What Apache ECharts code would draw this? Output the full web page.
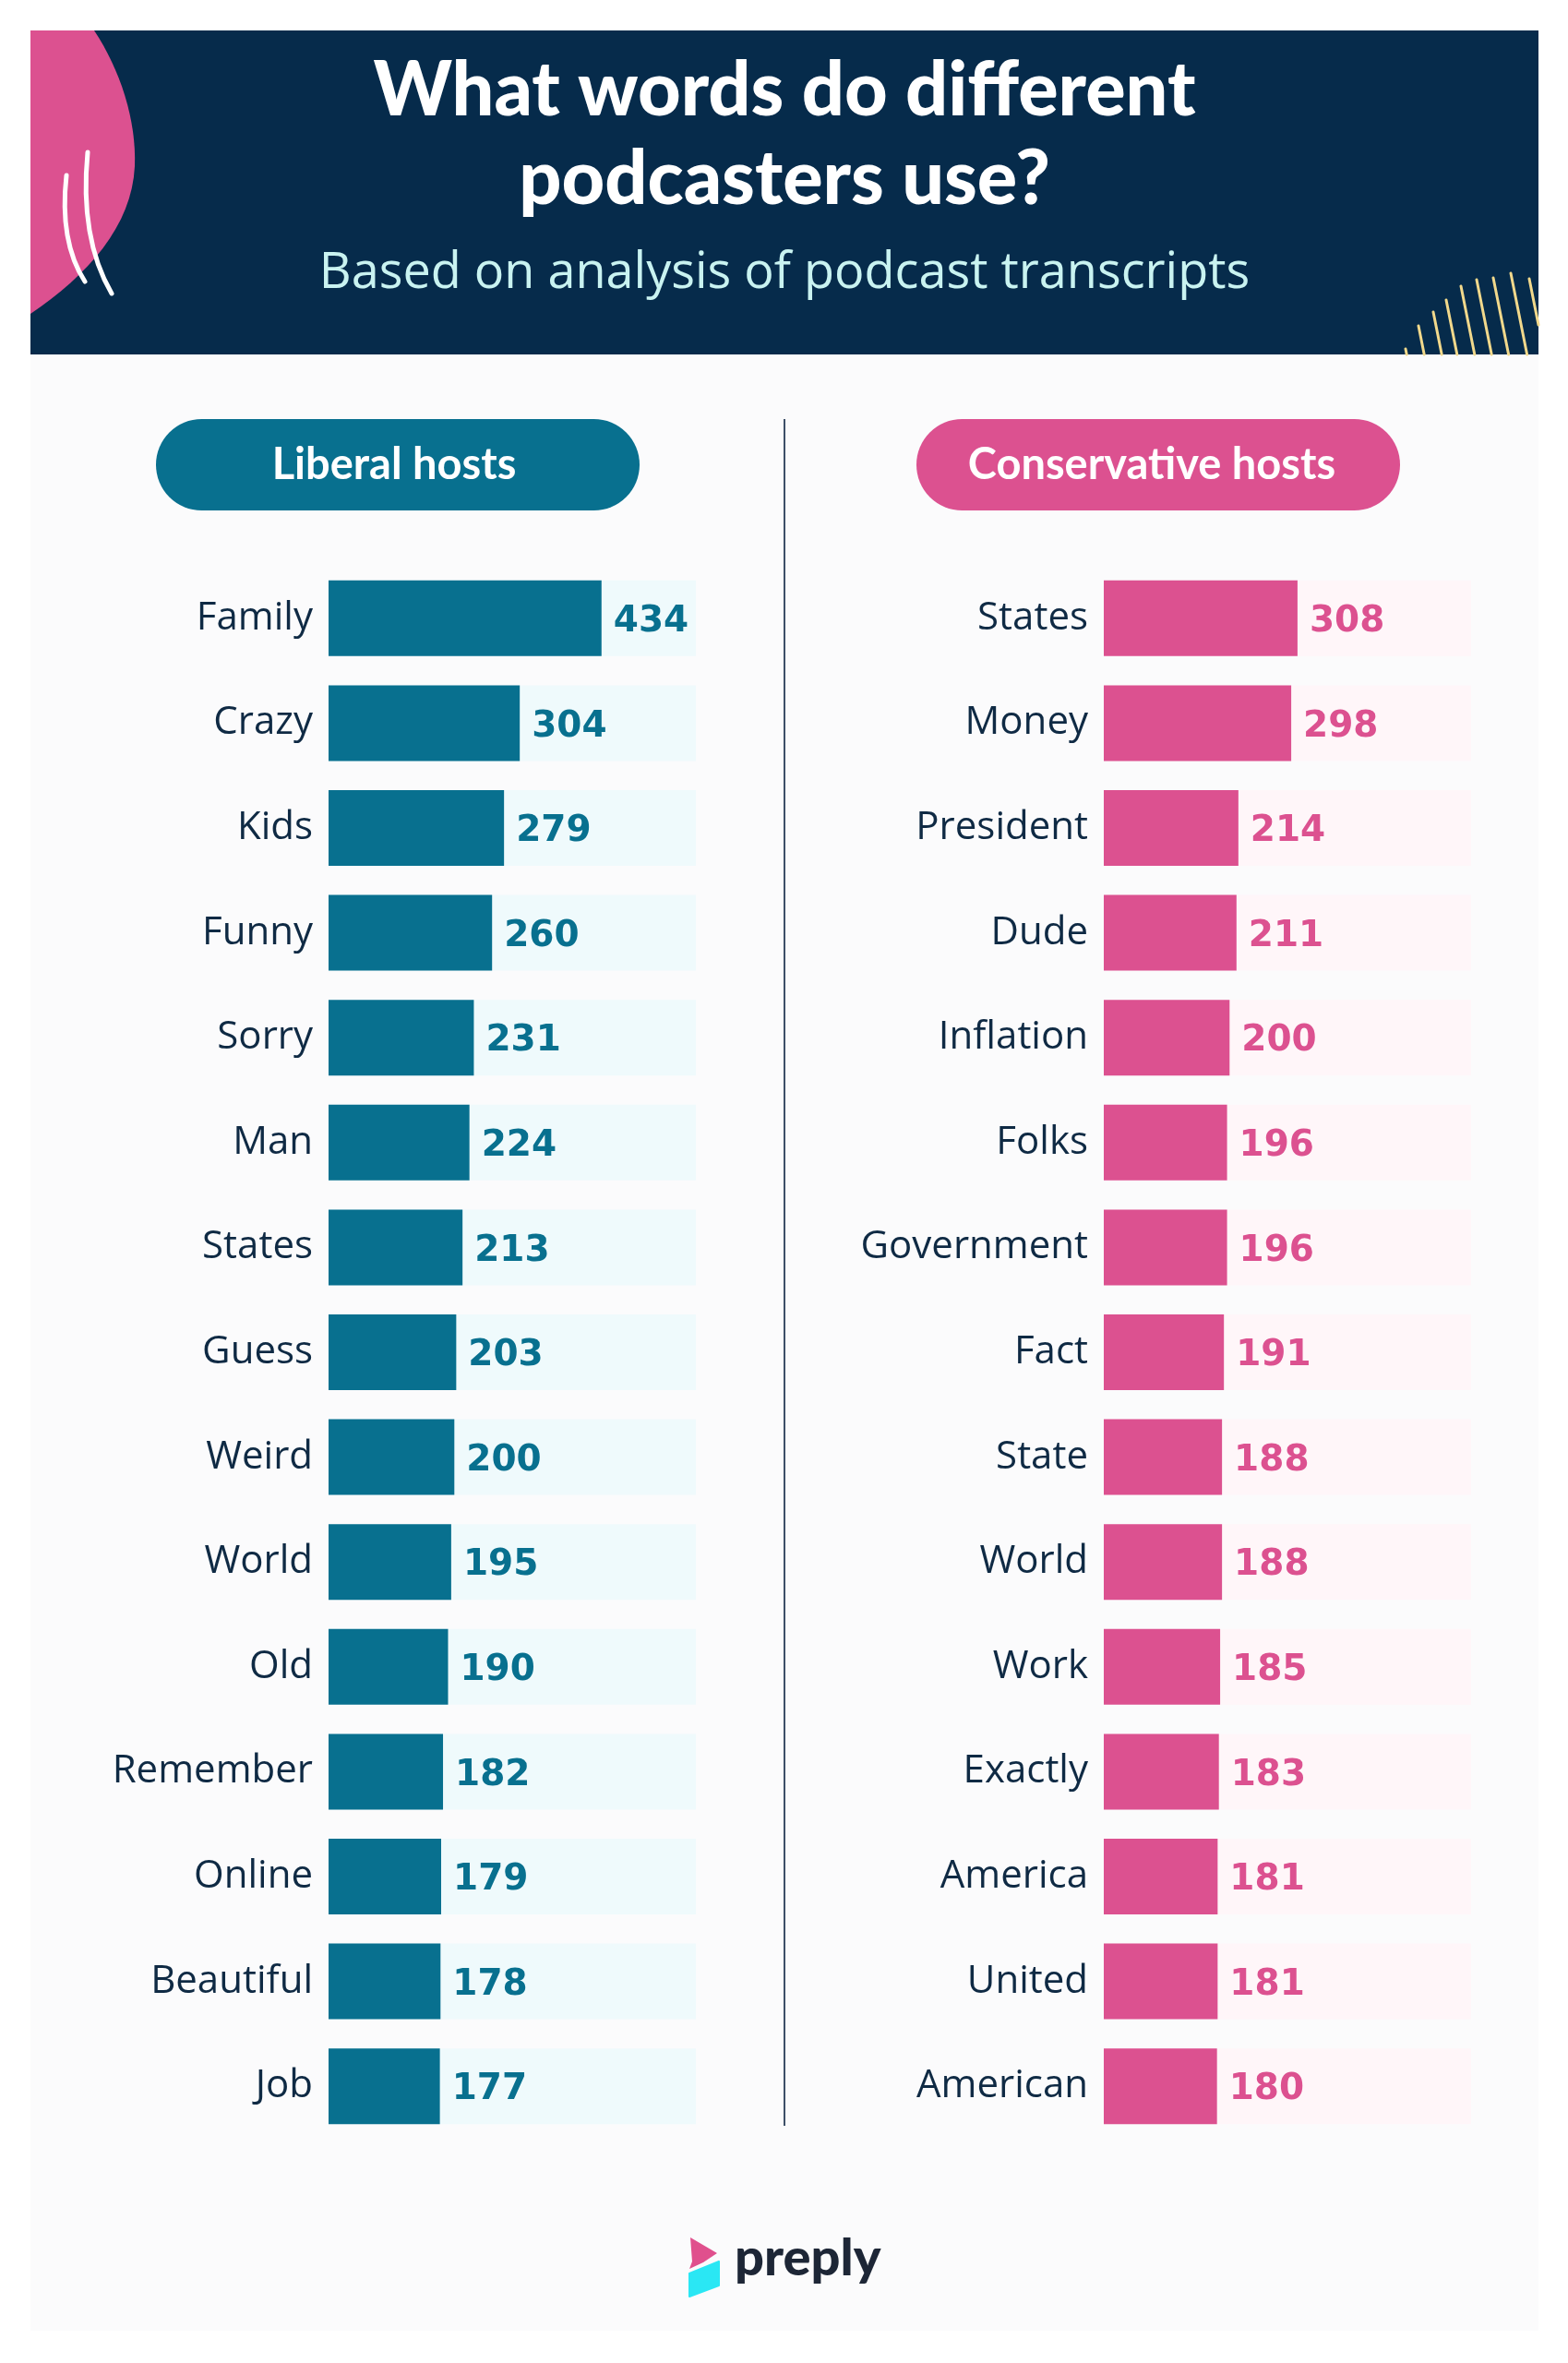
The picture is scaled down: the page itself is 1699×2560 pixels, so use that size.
<!DOCTYPE html>
<html><head><meta charset="utf-8">
<script src="https://cdn.jsdelivr.net/npm/echarts@6/dist/echarts.min.js"></script>
<style>html,body{margin:0;padding:0;background:#ffffff;} #c{width:1699px;height:2560px;}</style>
</head><body><div id="c"></div>
<script>
// ---- data ----
const liberalWords = ["Family","Crazy","Kids","Funny","Sorry","Man","States","Guess","Weird","World","Old","Remember","Online","Beautiful","Job"];
const liberalCounts = [434,304,279,260,231,224,213,203,200,195,190,182,179,178,177];
const conservativeWords = ["States","Money","President","Dude","Inflation","Folks","Government","Fact","State","World","Work","Exactly","America","United","American"];
const conservativeCounts = [308,298,214,211,200,196,196,191,188,188,185,183,181,181,180];
const trackMax = 584;

const NAVY = '#062b4b', TEAL = '#08708f', PINK = '#dc5190', TEXT = '#0f2a44';

const chart = echarts.init(document.getElementById('c'), null, {renderer:'canvas'});

function cubic(p0, p1, p2, p3, n) {
  const pts = [];
  for (let i = 0; i <= n; i++) {
    const t = i / n, u = 1 - t;
    pts.push([
      u*u*u*p0[0] + 3*u*u*t*p1[0] + 3*u*t*t*p2[0] + t*t*t*p3[0],
      u*u*u*p0[1] + 3*u*u*t*p1[1] + 3*u*t*t*p2[1] + t*t*t*p3[1]
    ]);
  }
  return pts;
}
const blobPts = [[33,33]].concat(
  cubic([102,33],[130,75],[148,130],[146,180], 16),
  cubic([146,180],[143,245],[95,298],[33,340], 16).slice(1)
);

// decorative header shapes
const yellowTops = [[1523,378],[1537,353],[1553,338],[1567,325],[1583,310],[1600,303],[1618,301],[1637,296],[1657,302]];
const yellowLines = yellowTops.map(function(p){
  let x2 = p[0] + (384 - p[1]) * 0.2, y2 = 384;
  if (x2 > 1667) { y2 = p[1] + (1667 - p[0]) / 0.2; x2 = 1667; }
  return {type:'line', z:3, shape:{x1:p[0], y1:p[1], x2:x2, y2:y2}, style:{stroke:'#f2d98c', lineWidth:3, lineCap:'round'}};
});

const graphics = [
  {type:'rect', z:0, shape:{x:33, y:384, width:1634, height:2141}, style:{fill:'#fbfbfc'}},
  {type:'rect', z:1, shape:{x:33, y:33, width:1634, height:351}, style:{fill:NAVY}},
  {type:'polygon', z:2, shape:{points:blobPts}, style:{fill:'#dc5190'}},
  {type:'bezierCurve', z:3, shape:{x1:72, y1:190, cpx1:64, cpy1:262, x2:92, y2:305}, style:{stroke:'#ffffff', lineWidth:5, lineCap:'round', fill:null}},
  {type:'bezierCurve', z:3, shape:{x1:95, y1:165, cpx1:86, cpy1:258, x2:121, y2:318}, style:{stroke:'#ffffff', lineWidth:5, lineCap:'round', fill:null}},
  {type:'text', z:4, style:{text:'What words do different', x:850, y:99, textAlign:'center', textVerticalAlign:'middle', fill:'#ffffff', font:'900 81px Lato'}},
  {type:'text', z:4, style:{text:'podcasters use?', x:850, y:195, textAlign:'center', textVerticalAlign:'middle', fill:'#ffffff', font:'900 81px Lato'}},
  {type:'text', z:4, style:{text:'Based on analysis of podcast transcripts', x:850, y:297, textAlign:'center', textVerticalAlign:'middle', fill:'#c9f3f1', font:'54px "Open Sans"'}},
  // pills
  {type:'rect', z:4, shape:{x:169, y:454, width:524, height:99, r:49.5}, style:{fill:TEAL}},
  {type:'text', z:5, style:{text:'Liberal hosts', x:427, y:504, textAlign:'center', textVerticalAlign:'middle', fill:'#ffffff', font:'bold 47px Lato'}},
  {type:'rect', z:4, shape:{x:993, y:454, width:524, height:99, r:49.5}, style:{fill:PINK}},
  {type:'text', z:5, style:{text:'Conservative hosts', x:1248, y:504, textAlign:'center', textVerticalAlign:'middle', fill:'#ffffff', font:'bold 47px Lato'}},
  // divider
  {type:'line', z:4, shape:{x1:850, y1:454, x2:850, y2:2303}, style:{stroke:'#3d5068', lineWidth:2}},
  // logo
  {type:'polygon', z:4, shape:{points:[[748,2424],[777,2441],[762,2451],[747,2458],[750,2450]]}, style:{fill:'#e0508d'}},
  {type:'polygon', z:4, shape:{points:[[747,2463],[779,2450],[779,2476],[747,2488]]}, style:{fill:'#2ae7f4', stroke:'#2ae7f4', lineWidth:2, lineJoin:'round'}},
  {type:'text', z:4, style:{text:'preply', x:796, y:2447, textAlign:'left', textVerticalAlign:'middle', fill:'#1d2636', font:'900 56px Lato'}}
].concat(yellowLines);

function barSeries(idx, data, color, bg) {
  return {
    type:'bar', xAxisIndex:idx, yAxisIndex:idx, data:data, barWidth:82,
    itemStyle:{color:color},
    showBackground:true, backgroundStyle:{color:bg},
    label:{show:true, position:'right', distance:13, offset:[0,4], color:color, fontFamily:'"DejaVu Sans"', fontWeight:'bold', fontSize:39},
    silent:true, animation:false, z:5
  };
}
function catAxis(idx, words) {
  return {type:'category', gridIndex:idx, data:words, inverse:true,
    axisLine:{show:false}, axisTick:{show:false}, splitLine:{show:false},
    axisLabel:{fontFamily:'"Open Sans"', fontSize:42, color:TEXT, margin:17, padding:[8,0,0,0]}};
}
function valAxis(idx) {
  return {type:'value', gridIndex:idx, min:0, max:trackMax, show:false, splitLine:{show:false}};
}

chart.setOption({
  animation:false,
  backgroundColor:'#ffffff',
  graphic:{elements:graphics},
  grid:[
    {left:356, top:613, width:398, height:1704},
    {left:1196, top:613, width:398, height:1704}
  ],
  xAxis:[valAxis(0), valAxis(1)],
  yAxis:[catAxis(0, liberalWords), catAxis(1, conservativeWords)],
  series:[
    barSeries(0, liberalCounts, TEAL, '#effafc'),
    barSeries(1, conservativeCounts, PINK, '#fff6f9')
  ]
});
</script>
</body></html>
